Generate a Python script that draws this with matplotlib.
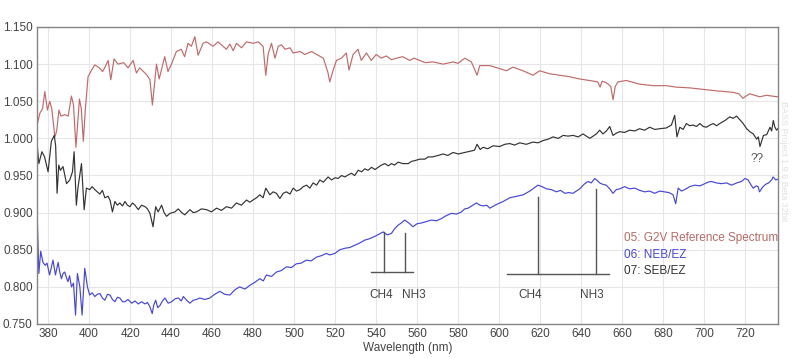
import matplotlib
matplotlib.use("Agg")
import matplotlib.pyplot as plt

plt.rcParams.update({
    'font.family': ['Liberation Sans', 'DejaVu Sans'],
    'font.size': 8.5,
})

# 05: G2V reference spectrum
wl_g2v = [374.5, 376, 377.3, 378.4, 379.7, 380.8, 381.8, 383.3, 384.2, 385.3, 386.3, 388.1, 389.8,
          391.4, 392.4, 393.6, 395.3, 396.2, 397.2, 398.2, 399.5, 401.2, 402.8, 405, 406.6, 407.8,
          409.3, 410.6, 412.2, 414.1, 416.9, 419, 421.5, 423.1, 424.7, 426.5, 428, 429.7, 430.9,
          432.9, 434.2, 436.9, 438.5, 440.2, 442.6, 445, 446.6, 448.3, 449.9, 451.6, 453.2, 455.6,
          457.3, 460.5, 462.9, 465.4, 467, 468.7, 470.3, 471.9, 474.4, 476.8, 480, 482.5, 484.9,
          486.2, 487.4, 489, 490.7, 492.3, 493.9, 495.6, 498, 499.6, 502.9, 505.3, 508.6, 511,
          514.3, 516.6, 517.4, 519.1, 520.7, 523.1, 525.5, 526.8, 528.8, 531.2, 532.8, 535.3, 537.7,
          540.1, 542.5, 545, 547.5, 550, 553, 556.4, 558.5, 561.3, 564, 567.8, 572.7, 577.6, 580,
          583.3, 586.5, 589.3, 590.6, 595.5, 600.3, 603.6, 606.8, 611.7, 616.6, 619.8, 624.7, 629.6,
          634.5, 639.3, 644, 648.2, 649.3, 650.3, 652.3, 654.5, 655.6, 656.7, 658, 662.1, 668.6,
          675.1, 681.6, 686.5, 693, 699.5, 706, 714.2, 717, 719, 720.5, 722.3, 727.2, 730.4, 733, 736]
g2v = [1.016, 1.034, 1.040, 1.063, 1.038, 1.050, 1.040, 1.002, 1.010, 1.038, 1.030, 1.032, 1.030,
       1.057, 1.045, 0.988, 1.053, 1.040, 0.996, 1.040, 1.083, 1.092, 1.099, 1.095, 1.090, 1.096,
       1.105, 1.079, 1.107, 1.100, 1.102, 1.095, 1.105, 1.088, 1.095, 1.090, 1.086, 1.079, 1.045,
       1.100, 1.080, 1.110, 1.090, 1.100, 1.117, 1.120, 1.110, 1.128, 1.124, 1.137, 1.112, 1.128,
       1.130, 1.124, 1.130, 1.124, 1.120, 1.127, 1.118, 1.128, 1.122, 1.130, 1.128, 1.130, 1.124,
       1.085, 1.114, 1.128, 1.108, 1.124, 1.126, 1.120, 1.122, 1.115, 1.117, 1.113, 1.117, 1.113,
       1.108, 1.088, 1.076, 1.092, 1.105, 1.108, 1.115, 1.092, 1.113, 1.120, 1.105, 1.115, 1.105,
       1.113, 1.108, 1.111, 1.106, 1.108, 1.110, 1.105, 1.108, 1.105, 1.102, 1.103, 1.100, 1.103, 1.101,
       1.108, 1.103, 1.085, 1.098, 1.098, 1.094, 1.091, 1.096, 1.091, 1.085, 1.091, 1.087, 1.085,
       1.083, 1.080, 1.078, 1.076, 1.069, 1.077, 1.075, 1.070, 1.052, 1.070, 1.076, 1.078, 1.073,
       1.071, 1.071, 1.069, 1.068, 1.066, 1.064, 1.062, 1.060, 1.054, 1.057, 1.060, 1.056, 1.058, 1.057, 1.056]

# 06: NEB/EZ
wl_neb = [374.8, 375.5, 376.4, 377.5, 378.6, 379.5, 380.7, 381.5, 382.4, 383.6, 384.9, 385.7, 386.5,
          387.3, 388.1, 389, 389.7, 390.5, 391.4, 392.4, 393.4, 394.3, 395.5, 396.6, 397.9, 399.2,
          400.3, 401.5, 402.8, 404, 405.3, 406.5, 407.7, 409, 410.2, 411.4, 412.6, 413.8, 415, 416.3,
          417.5, 419, 420.8, 422.4, 424, 425.6, 427.3, 428.5, 429.7, 430.8, 431.6, 432.5, 433.5,
          434.6, 435.8, 437, 438.6, 440.3, 442, 443.6, 445, 446, 447.6, 449.2, 450.8, 452.4, 454,
          456.5, 458.9, 461.3, 463.8, 466.2, 468.7, 471.1, 473.5, 476, 478.4, 480.8, 483.3, 485,
          486.5, 489, 491.4, 493.8, 496.3, 498.7, 501.1, 503.5, 506, 508.4, 510.9, 513.3, 515.8,
          517.4, 519.9, 522.3, 524.8, 527.2, 529.6, 532, 534.5, 537, 539.4, 541.5, 543.4, 545.5,
          547.5, 549, 550.7, 552.3, 554, 556, 558, 560, 562.1, 564.5, 567, 569.5, 571.9, 574.3,
          576.8, 579.3, 581.7, 583.3, 584.9, 587.3, 589, 590.7, 592.3, 594, 595.5, 598.8, 602,
          605.3, 608.5, 611.8, 615, 617, 619, 621, 623.1, 625.5, 628, 630, 632.1, 634, 636.1, 637.7,
          639.4, 641.4, 643.4, 645, 646.7, 648, 649.1, 650.7, 652.3, 654, 655.6, 657.2, 658.9,
          661.3, 663.7, 666.2, 668.6, 671, 673.5, 675.9, 678.4, 680.8, 682.9, 684.9, 686.2, 687.4,
          689, 690.6, 693, 695.5, 698, 700.4, 702, 703.6, 706, 708.5, 711, 713.4, 716, 718.3, 720,
          721.5, 723, 724, 725.5, 726.4, 727.1, 728.5, 730, 731.5, 733, 733.7, 735, 736]
neb = [0.886, 0.818, 0.848, 0.833, 0.829, 0.832, 0.816, 0.825, 0.836, 0.816, 0.833, 0.820, 0.811,
       0.818, 0.820, 0.812, 0.807, 0.815, 0.800, 0.805, 0.762, 0.818, 0.800, 0.762, 0.825, 0.800,
       0.789, 0.792, 0.787, 0.790, 0.791, 0.785, 0.782, 0.790, 0.789, 0.783, 0.780, 0.786, 0.785, 0.780,
       0.780, 0.783, 0.778, 0.781, 0.777, 0.780, 0.777, 0.779, 0.773, 0.764, 0.776, 0.782, 0.772,
       0.775, 0.781, 0.785, 0.778, 0.780, 0.784, 0.785, 0.781, 0.787, 0.782, 0.778, 0.782, 0.783, 0.785,
       0.783, 0.785, 0.790, 0.794, 0.790, 0.789, 0.796, 0.800, 0.797, 0.802, 0.806, 0.811, 0.808,
       0.816, 0.814, 0.820, 0.822, 0.827, 0.826, 0.831, 0.832, 0.836, 0.835, 0.840, 0.842, 0.845,
       0.843, 0.845, 0.850, 0.852, 0.853, 0.856, 0.859, 0.863, 0.865, 0.868, 0.871, 0.874, 0.870,
       0.872, 0.878, 0.883, 0.886, 0.890, 0.886, 0.881, 0.885, 0.886, 0.888, 0.890, 0.889, 0.892, 0.896,
       0.899, 0.898, 0.901, 0.905, 0.906, 0.910, 0.913, 0.910, 0.909, 0.910, 0.906, 0.911, 0.915,
       0.920, 0.922, 0.924, 0.929, 0.933, 0.937, 0.935, 0.932, 0.931, 0.928, 0.930, 0.926, 0.927, 0.926, 0.929,
       0.932, 0.938, 0.942, 0.940, 0.946, 0.943, 0.940, 0.938, 0.937, 0.932, 0.926, 0.931, 0.932,
       0.935, 0.932, 0.933, 0.930, 0.928, 0.929, 0.926, 0.929, 0.928, 0.927, 0.924, 0.912, 0.933,
       0.929, 0.931, 0.935, 0.937, 0.936, 0.939, 0.941, 0.942, 0.940, 0.939, 0.940, 0.937, 0.940, 0.942, 0.946,
       0.944, 0.937, 0.933, 0.936, 0.935, 0.928, 0.934, 0.938, 0.940, 0.944, 0.948, 0.944, 0.945]

# 07: SEB/EZ
wl_seb = [374.8, 375.5, 377, 378.3, 380, 381.6, 383, 383.7, 384.4, 385.2, 386, 387.3, 389, 390.6,
          391.9, 392.7, 393.8, 394.6, 396.3, 397.6, 398.7, 400.3, 401.5, 402.8, 404, 405.3, 406.5,
          407.7, 409.3, 410.3, 411.4, 412.6, 413.8, 415, 416.3, 417.5, 418.7, 419.9, 421.2, 422.4,
          424, 425.6, 427.3, 428.5, 429.7, 431.2, 432.5, 433.7, 435.4, 436.6, 437.8, 439.5, 441.9,
          443.5, 445.2, 446.7, 449.2, 450.8, 452.4, 454.8, 457.3, 459.7, 462.2, 464.6, 467, 469.5,
          471.9, 474.3, 476.8, 478.4, 480, 481.7, 483.3, 484.9, 486.2, 488.2, 489.8, 491.4, 493.1,
          494.7, 496.3, 498, 499.6, 501.2, 502.9, 504.5, 506.1, 507.7, 509.3, 511, 512.6, 514.3,
          516.6, 518.3, 520, 521.5, 523.2, 524.8, 526.5, 528, 529.6, 531.3, 533, 534.5, 536.1, 537.8,
          539.5, 541, 542.6, 544.3, 546, 547.5, 549, 550.8, 553, 555.7, 557.3, 558.9, 561.3, 563.8,
          565.4, 567.5, 570.3, 572.7, 575, 577.6, 580.1, 583.3, 586.5, 588, 589.3, 590.8, 592.2,
          594.5, 597.1, 600.3, 602.8, 605.2, 607.6, 610.1, 613.3, 616.6, 619, 621.5, 624, 626.4,
          628.9, 631.3, 633.7, 636.1, 638.6, 641, 642.6, 644.3, 645.9, 647.5, 649.1, 650.7, 652.4,
          654, 655.6, 657.2, 658.9, 661.3, 663.7, 666.2, 668.6, 671, 673.5, 676, 678.4, 681.6, 684.1,
          685.7, 686.8, 688.2, 689.8, 691.4, 693, 694.7, 696.3, 698, 699.6, 701.2, 702.9, 704.5,
          706.1, 707.7, 709, 710.2, 712.6, 714.2, 715.9, 717.5, 719.1, 720.8, 722.4, 724, 725.7,
          726.5, 727.3, 728.2, 729, 730.6, 732.2, 733, 733.8, 734.6, 735.4, 736]
seb = [0.987, 0.966, 0.982, 0.975, 0.955, 0.996, 1.004, 0.990, 0.926, 0.964, 0.957, 0.962, 0.939, 0.944,
       0.955, 0.982, 0.910, 0.934, 0.966, 0.904, 0.933, 0.931, 0.935, 0.931, 0.928, 0.925, 0.930,
       0.920, 0.922, 0.916, 0.901, 0.915, 0.910, 0.913, 0.909, 0.915, 0.910, 0.908, 0.913, 0.910,
       0.904, 0.910, 0.908, 0.905, 0.899, 0.881, 0.908, 0.901, 0.910, 0.900, 0.895, 0.899, 0.901,
       0.905, 0.900, 0.897, 0.904, 0.900, 0.901, 0.905, 0.904, 0.901, 0.906, 0.903, 0.908, 0.906,
       0.913, 0.910, 0.917, 0.914, 0.917, 0.920, 0.924, 0.920, 0.933, 0.924, 0.928, 0.926, 0.919,
       0.926, 0.928, 0.925, 0.933, 0.929, 0.931, 0.935, 0.937, 0.933, 0.940, 0.937, 0.944, 0.941,
       0.948, 0.944, 0.947, 0.946, 0.950, 0.948, 0.951, 0.953, 0.950, 0.957, 0.955, 0.959, 0.957, 0.961,
       0.958, 0.961, 0.964, 0.966, 0.963, 0.966, 0.964, 0.968, 0.966, 0.966, 0.969, 0.970, 0.972, 0.972,
       0.975, 0.975, 0.977, 0.979, 0.977, 0.981, 0.979, 0.981, 0.983, 0.984, 0.992, 0.985, 0.988,
       0.986, 0.990, 0.989, 0.992, 0.993, 0.991, 0.994, 0.992, 0.995, 0.994, 0.997, 0.999, 1.002,
       1.000, 1.004, 1.003, 1.004, 1.002, 1.006, 1.003, 1.000, 1.003, 1.006, 1.011, 1.006, 1.010,
       1.016, 1.004, 1.007, 1.009, 1.008, 1.011, 1.010, 1.013, 1.011, 1.015, 1.012, 1.013, 1.014, 1.018,
       1.031, 1.002, 1.015, 1.012, 1.020, 1.017, 1.018, 1.016, 1.020, 1.016, 1.015, 1.018, 1.020,
       1.017, 1.020, 1.022, 1.024, 1.029, 1.027, 1.030, 1.025, 1.020, 1.013, 1.009, 1.006, 0.999,
       1.002, 0.989, 0.997, 1.004, 1.005, 1.015, 1.010, 1.024, 1.015, 1.011, 1.013]

# absorption band markers: (label, wavelength, top of marker)
bands_left = [("CH4", 543.9, 0.874), ("NH3", 554.0, 0.872)]
bands_right = [("CH4", 619.2, 0.9215), ("NH3", 647.2, 0.9314)]
base_left = (537.4, 558.0, 0.8196)
base_right = (603.9, 653.7, 0.8173)

COLORS = {'g2v': '#c26a6a', 'neb': '#4646dc', 'seb': '#333333'}

fig = plt.figure(figsize=(8, 3.58), dpi=100)
ax = fig.add_axes([0.046, 0.095, 0.9265, 0.8296])

ax.plot(wl_g2v, g2v, color=COLORS['g2v'], lw=0.85)
ax.plot(wl_neb, neb, color=COLORS['neb'], lw=0.85)
ax.plot(wl_seb, seb, color=COLORS['seb'], lw=0.85)

for (x0, x1, yb), bands in ((base_left, bands_left), (base_right, bands_right)):
    ax.plot([x0, x1], [yb, yb], color='#555555', lw=1.0)
    for name, wl, top in bands:
        ax.plot([wl, wl], [yb, top], color='#555555', lw=1.0)
lab_y = 0.789
ax.text(542.3, lab_y, "CH4", ha='center', va='center', color='#444444')
ax.text(558.4, lab_y, "NH3", ha='center', va='center', color='#444444')
ax.text(615.0, lab_y, "CH4", ha='center', va='center', color='#444444')
ax.text(645.5, lab_y, "NH3", ha='center', va='center', color='#444444')
ax.text(726.0, 0.972, "??", ha='center', va='center', color='#555555')

ax.text(661.0, 0.866, "05: G2V Reference Spectrum", color='#b86a66', va='center', clip_on=True)
ax.text(661.0, 0.843, "06: NEB/EZ", color='#4646dc', va='center')
ax.text(661.0, 0.821, "07: SEB/EZ", color='#333333', va='center')

ax.set_xlim(374.5, 736.1)
ax.set_ylim(0.75, 1.15)
ax.set_xticks(range(380, 721, 20))
ax.set_yticks([0.75 + 0.05 * i for i in range(9)])
ax.yaxis.set_major_formatter(matplotlib.ticker.FormatStrFormatter('%.3f'))
ax.tick_params(length=0, pad=3, colors='#444444', labelsize=8.5)
ax.grid(color='#e6e6ea', lw=0.8)
ax.set_axisbelow(True)
for sp in ax.spines.values():
    sp.set_color('#858585')
    sp.set_linewidth(1.0)
ax.set_xlabel("Wavelength (nm)", color='#444444', fontsize=8.5, labelpad=1)

fig.text(0.979, 0.55, "BASS Project 1.9.6 Beta 32bit", rotation=-90, color='#e0e0e0',
         fontsize=6.5, ha='center', va='center')

fig.savefig("out.png", dpi=100)
